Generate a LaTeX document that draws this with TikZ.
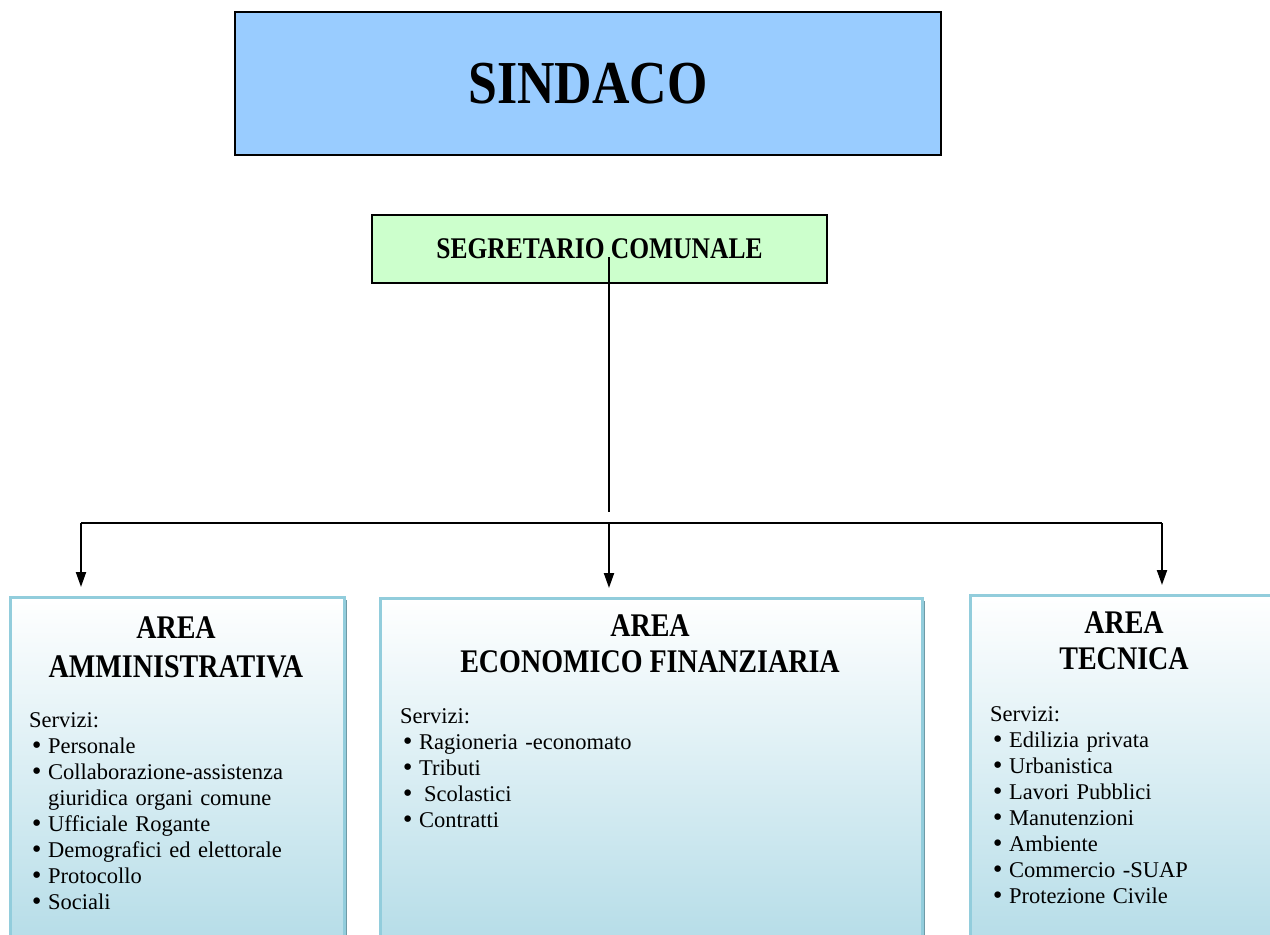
\documentclass[tikz,border=0pt]{standalone}
\usepackage{fontspec}
\setmainfont{Liberation Serif}
\newfontfamily\titolo[FakeStretch=0.85]{Liberation Serif}
\newfontfamily\simboli{DejaVu Sans}
\usetikzlibrary{arrows.meta, shadows}

\definecolor{celeste}{HTML}{99CCFF}
\definecolor{verdino}{HTML}{CCFFCC}
\definecolor{bordoarea}{HTML}{92CDDC}
\definecolor{fondoarea}{HTML}{B6DDE8}
\definecolor{ombra}{HTML}{6F9AA6}

% voce di elenco puntato
\newcommand{\voce}[1]{\hangindent=19pt\hangafter=1\noindent\makebox[19pt][l]{\hspace{1pt}{\simboli •}}#1\par}

\begin{document}
\begin{tikzpicture}[x=1pt, y=-1pt,
    carica/.style={draw=black, line width=2pt, inner sep=0pt, font=\titolo\bfseries},
    area/.style={draw=bordoarea, line width=2.5pt, top color=white, bottom color=fondoarea,
        inner sep=0pt, anchor=north west,
        drop shadow={shadow xshift=2.5pt, shadow yshift=-2.5pt, fill=ombra, opacity=1}},
    titoloarea/.style={anchor=base, align=center, inner sep=0pt,
        font=\titolo\bfseries\fontsize{33}{36}\selectfont},
    elenco/.style={anchor=base west, inner sep=0pt, text width=300pt, align=left,
        font=\fontsize{22.5}{26}\selectfont},
    freccia/.style={line width=2pt, -{Triangle[length=15pt,width=10pt]}, shorten >=9pt}]

    \useasboundingbox (0,0) rectangle (1270,935);

    \coordinate (attacco) at (609, 257);
    \coordinate (giunto) at (609, 512);
    \coordinate (busS) at (81, 523);
    \coordinate (busC) at (609, 523);
    \coordinate (busD) at (1162, 523);

    \node[carica, fill=celeste, minimum width=706pt, minimum height=143pt,
        font=\titolo\bfseries\fontsize{61}{70}\selectfont] (sindaco) at (588, 83.5) {SINDACO};
    \node[carica, fill=verdino, minimum width=455pt, minimum height=68pt,
        font=\titolo\bfseries\fontsize{30}{34}\selectfont] (segretario) at (599.5, 249) {SEGRETARIO COMUNALE};

    \node[area, minimum width=334pt, minimum height=344pt] (amm) at (9, 596) {};
    \node[area, minimum width=542pt, minimum height=343pt] (eco) at (379, 597) {};
    \node[area, minimum width=310pt, minimum height=346pt] (tec) at (969, 594) {};

    % base = ultima riga del titolo
    \node[titoloarea, font=\titolo\bfseries\fontsize{33}{39}\selectfont] (titAmm) at (176, 677) {AREA\\AMMINISTRATIVA};
    \node[titoloarea] (titEco) at (650, 672) {AREA\\ECONOMICO FINANZIARIA};
    \node[titoloarea] (titTec) at (1124, 669) {AREA\\TECNICA};

    \node[elenco] (servAmm) at (29, 727) {Servizi:\par
        \voce{Personale}
        \voce{Collaborazione-assistenza\hfill\break giuridica organi comune}
        \voce{Ufficiale Rogante}
        \voce{Demografici ed elettorale}
        \voce{Protocollo}
        \voce{Sociali}};
    \node[elenco] (servEco) at (400, 723) {Servizi:\par
        \voce{Ragioneria -economato}
        \voce{Tributi}
        \voce{\hspace{5pt}Scolastici}
        \voce{Contratti}};
    \node[elenco] (servTec) at (990, 721) {Servizi:\par
        \voce{Edilizia privata}
        \voce{Urbanistica}
        \voce{Lavori Pubblici}
        \voce{Manutenzioni}
        \voce{Ambiente}
        \voce{Commercio -SUAP}
        \voce{Protezione Civile}};

    \draw[line width=1.5pt] (attacco) -- (giunto);
    \draw[line width=2.5pt] (busS) -- (busD);
    \draw[freccia] (busS) -- (busS |- amm.north);
    \draw[freccia] (busC) -- (busC |- eco.north);
    \draw[freccia] (busD) -- (busD |- tec.north);

\end{tikzpicture}
\end{document}
